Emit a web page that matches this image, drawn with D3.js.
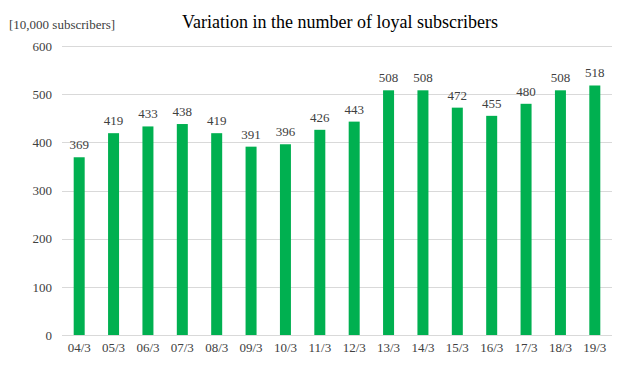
<!DOCTYPE html>
<html>
<head>
<meta charset="utf-8">
<script src="https://cdn.jsdelivr.net/npm/d3@7"></script>
<style>
  body { margin: 0; background: #fff; }
  svg { display: block; }
  svg text { font-family: "Liberation Serif", "Times New Roman", Times, serif; }
</style>
</head>
<body>
<div id="chart"></div>
<script>
// Chart data
const categories = ["04/3", "05/3", "06/3", "07/3", "08/3", "09/3", "10/3", "11/3",
                    "12/3", "13/3", "14/3", "15/3", "16/3", "17/3", "18/3", "19/3"];
const subscribers = [369, 419, 433, 438, 419, 391, 396, 426, 443, 508, 508, 472, 455, 480, 508, 518];
const yTicks = [0, 100, 200, 300, 400, 500, 600];
const titleText = "Variation in the number of loyal subscribers";
const unitText = "[10,000 subscribers]";

const width = 628, height = 368;
const margin = { top: 46, right: 16, bottom: 33, left: 62 };
const textColor = "#404040";

const svg = d3.select("#chart").append("svg")
    .attr("width", width)
    .attr("height", height);

const x = d3.scaleBand()
    .domain(categories)
    .range([margin.left, width - margin.right])
    .paddingInner(0.68)
    .paddingOuter(0.34);

const y = d3.scaleLinear()
    .domain([0, 600])
    .range([height - margin.bottom, margin.top]);

// gridlines
svg.append("g").attr("class", "grid")
  .selectAll("line")
  .data(yTicks)
  .join("line")
    .attr("x1", margin.left)
    .attr("x2", width - margin.right)
    .attr("y1", d => Math.round(y(d)) + 0.5)
    .attr("y2", d => Math.round(y(d)) + 0.5)
    .attr("stroke", "#d9d9d9")
    .attr("stroke-width", 1);

// y axis labels
const yAxis = svg.append("g")
    .attr("transform", `translate(${margin.left - 10},0)`)
    .call(d3.axisLeft(y).tickValues(yTicks).tickSize(0).tickPadding(0));
yAxis.select(".domain").remove();
yAxis.selectAll("text")
    .attr("font-size", 13)
    .attr("fill", textColor);

// x axis labels
const xAxis = svg.append("g")
    .attr("transform", `translate(0,${height - margin.bottom})`)
    .call(d3.axisBottom(x).tickSize(0).tickPadding(8));
xAxis.select(".domain").remove();
xAxis.selectAll("text")
    .attr("font-size", 13)
    .attr("fill", textColor);

// bars
svg.append("g").attr("class", "bars")
  .selectAll("rect")
  .data(subscribers)
  .join("rect")
    .attr("x", (d, i) => x(categories[i]))
    .attr("y", d => y(d))
    .attr("width", x.bandwidth())
    .attr("height", d => y(0) - y(d))
    .attr("fill", "#00b050");

// value labels
svg.append("g").attr("class", "labels")
  .selectAll("text")
  .data(subscribers)
  .join("text")
    .attr("x", (d, i) => x(categories[i]) + x.bandwidth() / 2)
    .attr("y", d => y(d) - 8)
    .attr("text-anchor", "middle")
    .attr("font-size", 13)
    .attr("fill", textColor)
    .text(d => d);

// title
svg.append("text")
    .attr("x", 340)
    .attr("y", 28)
    .attr("text-anchor", "middle")
    .attr("font-size", 18)
    .attr("fill", "#000")
    .text(titleText);

// unit label
svg.append("text")
    .attr("x", 9)
    .attr("y", 29)
    .attr("font-size", 13)
    .attr("fill", textColor)
    .text(unitText);
</script>
</body>
</html>
